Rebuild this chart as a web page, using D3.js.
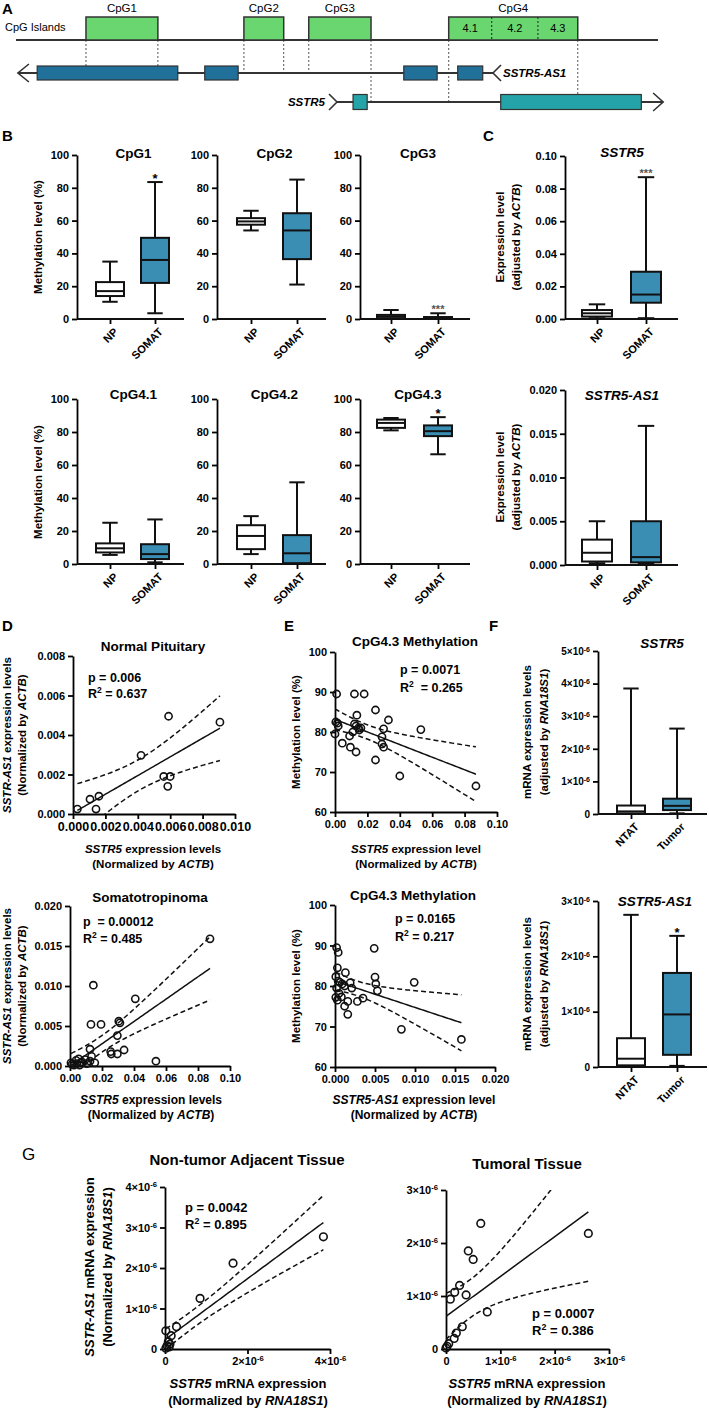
<!DOCTYPE html>
<html><head><meta charset="utf-8">
<script src="https://cdn.jsdelivr.net/npm/d3@7"></script>
<style>body{margin:0;background:#fff;} svg text{white-space:pre;}</style>
</head><body>
<svg id="fig" width="709" height="1408"></svg>
<script>
// ================= DATA =================
// Panel A – schematic genomic coordinates (arbitrary units 0-1000)
const islandNames = ["CpG1","CpG2","CpG3","CpG4"];
const islandStart = [109,355,456,674];
const islandEnd   = [221,417,553,875];
const cpg4SubNames = ["4.1","4.2","4.3"];
const cpg4SubBounds = [674,741,813,875];
const as1ExonStart = [33,294,604,688];
const as1ExonEnd   = [252,346,656,727];
const as1Span = [3,743];
const sstr5ExonStart = [525,755];
const sstr5ExonEnd   = [547,974];
const sstr5Span = [500,1008];
const guidePos   = [109,221,355,417,456,553,674,875];
const guideTrack = ["as1","as1","as1","as1","as1","sstr5","sstr5","sstr5"];

// Panel B – methylation box plots [min,q1,median,q3,max]
const methGroups = ["NP","SOMAT"];
const methTitles = ["CpG1","CpG2","CpG3","CpG4.1","CpG4.2","CpG4.3"];
const methNP    = [[10.5,14,17,22.5,35],[54,57.5,59.5,61.5,66],[0,0.5,1.5,2.5,5.5],[5.5,7,9.5,12.5,25],[6,9,17,23.5,29],[81,82.5,85.5,87.5,88.5]];
const methSOMAT = [[3.5,22,36,49.5,83.5],[21,36.5,54,64.5,85],[0,0.3,0.7,1.2,3.5],[1,3,6,12,27],[0,0.5,6.5,17.5,49.5],[66.5,77.5,80.5,84,89]];
const methStars = ["*","","***","","","*"];
const methTicks = [0,20,40,60,80,100];

// Panel C – expression box plots
const sstr5NP    = [0.0005,0.0015,0.0035,0.0055,0.009];
const sstr5SOMAT = [0.0005,0.010,0.015,0.029,0.087];
const as1NP      = [0.0002,0.0004,0.0014,0.0029,0.005];
const as1SOMAT   = [0.0002,0.0003,0.0009,0.005,0.0159];
const cTopTicks = [0,0.02,0.04,0.06,0.08,0.10];
const cBotTicks = [0,0.005,0.010,0.015,0.020];

// Panel D – SSTR5 (x) vs SSTR5-AS1 (y)
const dNormal = [[0.00027,0.00025],[0.00105,0.00075],[0.0016,0.0009],[0.00142,0.00025],[0.0042,0.00297],[0.0059,0.00495],[0.0056,0.0019],[0.006,0.0019],[0.00585,0.0014],[0.00907,0.00465]];
const dSomat = [[0.0875,0.0159],[0.0146,0.0101],[0.0408,0.0084],[0.0131,0.0052],[0.0194,0.0052],[0.0305,0.0056],[0.0312,0.0054],[0.0296,0.0038],[0.0125,0.0021],[0.0254,0.0018],[0.0258,0.0015],[0.0296,0.0015],[0.0338,0.0020],[0.0537,0.0006],[0.0006,0.0004],[0.0013,0.0002],[0.0025,0.0001],[0.0038,0.0007],[0.0044,0.0003],[0.0054,0.0009],[0.006,0.0001],[0.0069,0.0004],[0.0075,0.0005],[0.0095,0.0008],[0.0105,0.0003],[0.0125,0.0006],[0.0135,0.0012],[0.0155,0.0004]];
const dTopXTicks = [0,0.002,0.004,0.006,0.008,0.010];
const dTopYTicks = [0,0.002,0.004,0.006,0.008];
const dBotXTicks = [0,0.02,0.04,0.06,0.08,0.10];
const dBotYTicks = [0,0.005,0.010,0.015,0.020];

// Panel E – CpG4.3 methylation vs expression
const eSstr5 = [[0.001,89.5],[0.012,89.5],[0.018,89.5],[0.025,85.5],[0.0135,84.2],[0.033,83],[0.0015,82.2],[0.002,81.5],[0.012,82],[0.013,81.5],[0.0145,81],[0.016,81],[0.03,80.8],[0.053,80.6],[0.0,79.5],[0.011,80],[0.009,79],[0.029,78.8],[0.029,77],[0.03,76.2],[0.0045,77.2],[0.0095,76.2],[0.013,75],[0.025,73],[0.04,69],[0.087,66.5],[0.0005,82.5],[0.015,80.5]];
const eAs1 = [[0.0158,66.8],[0.0083,69.3],[0.0099,80.9],[0.0049,89.3],[0.0050,82.2],[0.0051,80.5],[0.0053,78.8],[0.0013,83.3],[0.0019,80.8],[0.0021,79.5],[0.0035,77],[0.0016,73],[0.0002,89.5],[0.0004,88.3],[0.0003,84.5],[0.0001,82.3],[0.0004,81.2],[0.0009,80.5],[0.0012,80],[0.0002,79.5],[0.0005,78.2],[0.0008,77.3],[0.0001,77.2],[0.0003,76.5],[0.0012,75],[0.0016,76.2],[0.0006,80.9],[0.0028,76.2]];
const eYTicks = [60,70,80,90,100];
const eTopXTicks = [0,0.02,0.04,0.06,0.08,0.10];
const eBotXTicks = [0,0.005,0.010,0.015,0.020];

// Panel F – mRNA (x10^-6) box plots
const fGroups = ["NTAT","Tumor"];
const fSstr5NTAT  = [0,0.02,0.08,0.26,3.85];
const fSstr5Tumor = [0.02,0.12,0.25,0.47,2.62];
const fAs1NTAT    = [0,0.03,0.15,0.52,2.75];
const fAs1Tumor   = [0.02,0.22,0.95,1.7,2.37];
const fTopTicks = [0,1,2,3,4,5];
const fBotTicks = [0,1,2,3];

// Panel G – x10^-6 units
const gNTAT = [[3.84,2.77],[1.65,2.12],[0.85,1.25],[0.28,0.55],[0.02,0.45],[0.15,0.33],[0.08,0.18],[0.05,0.08],[0.1,0.05],[0.02,0.02],[0.12,0.12]];
const gTumor = [[2.62,2.18],[0.64,2.37],[0.41,1.85],[0.5,1.69],[0.25,1.2],[0.16,1.07],[0.08,0.94],[0.37,1.02],[0.76,0.7],[0.3,0.42],[0.19,0.3],[0.15,0.2],[0.05,0.1],[0.02,0.05],[0.0,0.02]];
const gLeftXTicks = [0,2,4];
const gLeftYTicks = [0,1,2,3,4];
const gRightXTicks = [0,1,2,3];
const gRightYTicks = [0,1,2,3];

// ================= DRAWING =================
const FONT = '"Liberation Sans", Arial, Helvetica, sans-serif';
const NARROW = '"Liberation Sans Narrow", "Liberation Sans", Arial, sans-serif';
const BLUE = "#3a8db3";
const svg = d3.select("#fig");
svg.append("rect").attr("width",709).attr("height",1408).attr("fill","#fff");

function txt(g,x,y,parts,o={}){
  const t=g.append("text").attr("x",x).attr("y",y)
    .attr("font-size",o.size||11).attr("font-weight",o.weight||"bold")
    .attr("text-anchor",o.anchor||"middle").attr("font-family",o.family||FONT)
    .attr("fill",o.fill||"#000");
  if(o.rotate!==undefined) t.attr("transform",`rotate(${o.rotate},${x},${y})`);
  if(typeof parts==="string") parts=[[parts,""]];
  parts.forEach(([s,st])=>{
    const sp=t.append("tspan").text(s);
    if(st.includes("i")) sp.attr("font-style","italic");
    if(st.includes("sup")) sp.attr("baseline-shift","super").attr("font-size","68%");
  });
  return t;
}
function styleAxis(sel,size,family){
  sel.selectAll("path.domain").attr("stroke","#000").attr("stroke-width",1.8);
  sel.selectAll(".tick line").attr("stroke","#000").attr("stroke-width",1.8);
  sel.selectAll(".tick text").attr("font-size",size).attr("font-weight","bold")
     .attr("font-family",family||FONT).attr("fill","#000");
}
function sciTicks(sel){
  sel.selectAll(".tick text").each(function(d){
    const t=d3.select(this); t.text(null);
    if(d===0){t.text("0");return;}
    t.append("tspan").text(d+"×10");
    t.append("tspan").attr("baseline-shift","super").attr("font-size","70%").text("-6");
  });
}
function catLabels(g,x,cats,y0,size,family){
  cats.forEach(c=>{
    const px=x(c)+3, py=y0+8;
    g.append("text").attr("x",px).attr("y",py).attr("dy","0.72em")
     .attr("text-anchor","end").attr("transform",`rotate(-45,${px},${py})`)
     .attr("font-size",size||11).attr("font-weight","bold").attr("font-family",family||FONT).text(c);
  });
}
function ln(g,x1,y1,x2,y2,w){
  return g.append("line").attr("x1",x1).attr("y1",y1).attr("x2",x2).attr("y2",y2)
    .attr("stroke","#111").attr("stroke-width",w||2);
}

// ---------- Panel A ----------
(function(){
  const g=svg.append("g");
  const gx=d3.scaleLinear().domain([0,1000]).range([16,658]);
  const Y={base:40,islTop:17,as1:73,sstr5:102,exH:14};
  const green="#69d66f", as1Col="#20709a", sCol="#24a4a8";
  txt(g,2,14,"A",{size:15,anchor:"start"});
  guidePos.forEach((p,i)=>{
    const tr=guideTrack[i];
    const st=tr==="as1"?as1ExonStart:sstr5ExonStart, en=tr==="as1"?as1ExonEnd:sstr5ExonEnd;
    const ty=tr==="as1"?Y.as1:Y.sstr5;
    const inEx=st.some((s,j)=>p>=s&&p<=en[j]);
    g.append("line").attr("x1",gx(p)).attr("x2",gx(p)).attr("y1",Y.base).attr("y2",inEx?ty-Y.exH/2:ty)
      .attr("stroke","#555").attr("stroke-width",1).attr("stroke-dasharray","2,2");
  });
  g.append("line").attr("x1",gx(0)).attr("x2",gx(1000)).attr("y1",Y.base).attr("y2",Y.base).attr("stroke","#333").attr("stroke-width",2);
  islandNames.forEach((n,i)=>{
    g.append("rect").attr("x",gx(islandStart[i])).attr("y",Y.islTop)
     .attr("width",gx(islandEnd[i])-gx(islandStart[i])).attr("height",Y.base-Y.islTop)
     .attr("fill",green).attr("stroke","#333").attr("stroke-width",1.5);
    txt(g,(gx(islandStart[i])+gx(islandEnd[i]))/2,12,n,{size:11.5,weight:"normal"});
  });
  cpg4SubBounds.slice(1,-1).forEach(b=>{
    g.append("line").attr("x1",gx(b)).attr("x2",gx(b)).attr("y1",Y.islTop).attr("y2",Y.base)
     .attr("stroke","#222").attr("stroke-width",1).attr("stroke-dasharray","2,2");
  });
  cpg4SubNames.forEach((n,i)=>txt(g,(gx(cpg4SubBounds[i])+gx(cpg4SubBounds[i+1]))/2,32,n,{size:11,weight:"normal"}));
  txt(g,5,31,"CpG Islands",{size:11,weight:"normal",anchor:"start"});
  g.append("line").attr("x1",gx(as1Span[0])).attr("x2",gx(as1Span[1])).attr("y1",Y.as1).attr("y2",Y.as1).attr("stroke","#333").attr("stroke-width",2);
  const lt=gx(as1Span[0]), rt=gx(as1Span[1]);
  g.append("path").attr("d",`M${lt+11},${Y.as1-9}L${lt},${Y.as1}L${lt+11},${Y.as1+9}`).attr("fill","none").attr("stroke","#333").attr("stroke-width",1.6);
  g.append("path").attr("d",`M${rt+8},${Y.as1-8}L${rt},${Y.as1}L${rt+8},${Y.as1+8}`).attr("fill","none").attr("stroke","#333").attr("stroke-width",1.6);
  as1ExonStart.forEach((s,i)=>g.append("rect").attr("x",gx(s)).attr("y",Y.as1-Y.exH/2).attr("width",gx(as1ExonEnd[i])-gx(s)).attr("height",Y.exH).attr("fill",as1Col).attr("stroke","#333").attr("stroke-width",1.2));
  txt(g,rt+10,Y.as1+4,[["SSTR5-AS1","i"]],{size:11.5,anchor:"start"});
  const sl=gx(sstr5Span[0]), sr=gx(sstr5Span[1]);
  g.append("line").attr("x1",sl).attr("x2",sr).attr("y1",Y.sstr5).attr("y2",Y.sstr5).attr("stroke","#333").attr("stroke-width",2);
  g.append("path").attr("d",`M${sl-8},${Y.sstr5-8}L${sl},${Y.sstr5}L${sl-8},${Y.sstr5+8}`).attr("fill","none").attr("stroke","#333").attr("stroke-width",1.6);
  g.append("path").attr("d",`M${sr-10},${Y.sstr5-9}L${sr},${Y.sstr5}L${sr-10},${Y.sstr5+9}`).attr("fill","none").attr("stroke","#333").attr("stroke-width",1.6);
  sstr5ExonStart.forEach((s,i)=>g.append("rect").attr("x",gx(s)).attr("y",Y.sstr5-Y.exH/2-0.5).attr("width",gx(sstr5ExonEnd[i])-gx(s)).attr("height",Y.exH+1).attr("fill",sCol).attr("stroke","#333").attr("stroke-width",1.2));
  txt(g,sl-12,Y.sstr5+4,[["SSTR5","i"]],{size:11.5,anchor:"end"});
})();

// ---------- Box-plot helper ----------
function drawBox(g,cx,y,s,fill,w){
  const [mn,q1,md,q3,mx]=s, cw=w*0.55;
  ln(g,cx,y(mx),cx,y(q3)); ln(g,cx,y(q1),cx,y(mn));
  ln(g,cx-cw/2,y(mx),cx+cw/2,y(mx)); ln(g,cx-cw/2,y(mn),cx+cw/2,y(mn));
  g.append("rect").attr("x",cx-w/2).attr("y",y(q3)).attr("width",w).attr("height",Math.max(0.5,y(q1)-y(q3)))
   .attr("fill",fill).attr("stroke","#111").attr("stroke-width",2);
  ln(g,cx-w/2,y(md),cx+w/2,y(md));
}
function boxPanel(c){
  const g=svg.append("g");
  const y=d3.scaleLinear().domain(c.domain).range(c.yRange);
  const x=d3.scalePoint().domain(c.cats).range(c.catX);
  const ya=g.append("g").attr("transform",`translate(${c.ax},0)`)
    .call(d3.axisLeft(y).tickValues(c.ticks).tickSize(5).tickSizeOuter(0).tickPadding(3).tickFormat(c.fmt||null));
  styleAxis(ya,c.tickSize||11);
  if(c.sci) sciTicks(ya);
  const y0=y(c.domain[0]);
  const xa=g.append("g").attr("transform",`translate(0,${y0})`)
    .call(d3.axisBottom(x).tickSize(5).tickSizeOuter(0).tickFormat(""));
  xa.select(".domain").remove();
  styleAxis(xa,11);
  ln(g,c.ax,y0,c.end,y0,1.8);
  catLabels(g,x,c.cats,y0,11);
  c.series.forEach((s,i)=>drawBox(g,x(c.cats[i]),y,s,c.fills[i],c.boxW||28));
  if(c.stars) c.stars.forEach((st,i)=>{ if(st) txt(g,x(c.cats[i]),y(c.series[i][4])+(st.length>1?0:1),st,{size:st.length>1?11:13,fill:st.length>1?"#555":"#000"}); });
  if(c.title) txt(g,c.titleX!==undefined?c.titleX:(c.ax+c.end)/2+3,c.titleY,c.title,{size:13.5});
  return {g,x,y};
}

// ---------- Panel B ----------
txt(svg,2,141,"B",{size:15,anchor:"start"});
const bCols=[{ax:77,end:184,c:[110,155]},{ax:217,end:326,c:[251,297]},{ax:360,end:470,c:[391,438]}];
methTitles.forEach((t,i)=>{
  const col=bCols[i%3], top=i<3;
  boxPanel({domain:[0,100],yRange:top?[319,155]:[564,399],ticks:methTicks,fmt:d3.format("d"),
    ax:col.ax,end:col.end,cats:methGroups,catX:col.c,series:[methNP[i],methSOMAT[i]],fills:["#fff",BLUE],
    stars:["",methStars[i]],title:t,titleY:top?158:399});
});
txt(svg,42,237,"Methylation level (%)",{size:11.5,rotate:-90});
txt(svg,42,482,"Methylation level (%)",{size:11.5,rotate:-90});

// ---------- Panel C ----------
txt(svg,483,141,"C",{size:15,anchor:"start"});
boxPanel({domain:[0,0.10],yRange:[319,156],ticks:cTopTicks,fmt:d3.format(".2f"),ax:565,end:678,cats:methGroups,catX:[597,646],
  series:[sstr5NP,sstr5SOMAT],fills:["#fff",BLUE],stars:["","***"],title:[["SSTR5","i"]],titleX:622,titleY:157,boxW:30});
boxPanel({domain:[0,0.020],yRange:[565,390],ticks:cBotTicks,fmt:d3.format(".3f"),ax:565,end:678,cats:methGroups,catX:[597,646],
  series:[as1NP,as1SOMAT],fills:["#fff",BLUE],title:[["SSTR5-AS1","i"]],titleX:622,titleY:400,boxW:30});
[[237],[477]].forEach(([cy])=>{
  txt(svg,504,cy,"Expression level",{size:11.5,rotate:-90});
  txt(svg,520,cy,[["(adjusted by ",""],["ACTB","i"],[")",""]],{size:11.5,rotate:-90});
});

// ---------- Scatter helper ----------
function tCrit(df){const z=1.959964;return z+(z**3+z)/(4*df)+(5*z**5+16*z**3+3*z)/(96*df*df)+(3*z**7+19*z**5+17*z**3-15*z)/(384*df**3);}
function regression(p){
  const n=p.length,mx=d3.mean(p,d=>d[0]),my=d3.mean(p,d=>d[1]);
  let sxx=0,sxy=0,syy=0;p.forEach(([a,b])=>{sxx+=(a-mx)**2;sxy+=(a-mx)*(b-my);syy+=(b-my)**2;});
  const b=sxy/sxx,a=my-b*mx,s=Math.sqrt((syy-b*sxy)/(n-2)),t=tCrit(n-2);
  return {f:x=>a+b*x,h:x=>t*s*Math.sqrt(1/n+(x-mx)**2/sxx)};
}
let clipN=0;
function scatter(c){
  const g=svg.append("g");
  const x=d3.scaleLinear().domain(c.xDom).range(c.xRange);
  const y=d3.scaleLinear().domain(c.yDom).range(c.yRange);
  const xa=g.append("g").attr("transform",`translate(0,${c.yRange[0]})`)
    .call(d3.axisBottom(x).tickValues(c.xTicks).tickSize(5).tickSizeOuter(0).tickPadding(3).tickFormat(c.xFmt||null));
  styleAxis(xa,c.xTickSize||11,c.xFamily);
  const ya=g.append("g").attr("transform",`translate(${c.xRange[0]},0)`)
    .call(d3.axisLeft(y).tickValues(c.yTicks).tickSize(5).tickSizeOuter(0).tickPadding(3).tickFormat(c.yFmt||null));
  styleAxis(ya,c.yTickSize||11,c.yFamily);
  if(c.sci){sciTicks(xa);sciTicks(ya);}
  const id="clip"+(clipN++);
  g.append("clipPath").attr("id",id).append("rect").attr("x",c.xRange[0]).attr("y",c.yRange[1])
    .attr("width",c.xRange[1]-c.xRange[0]).attr("height",c.yRange[0]-c.yRange[1]);
  const r=regression(c.pts);
  const [xmin,xmax]=d3.extent(c.pts,d=>d[0]);
  const xs=d3.range(0,61).map(i=>xmin+(xmax-xmin)*i/60);
  const line=d3.line().x(d=>x(d[0])).y(d=>y(d[1]));
  const lg=g.append("g").attr("clip-path",`url(#${id})`);
  lg.append("path").attr("d",line(xs.map(v=>[v,r.f(v)]))).attr("fill","none").attr("stroke","#111").attr("stroke-width",1.5);
  [1,-1].forEach(sg=>lg.append("path").attr("d",line(xs.map(v=>[v,r.f(v)+sg*r.h(v)])))
    .attr("fill","none").attr("stroke","#111").attr("stroke-width",1.5).attr("stroke-dasharray","5,3"));
  g.selectAll("circle.pt").data(c.pts).join("circle").attr("class","pt")
    .attr("cx",d=>x(d[0])).attr("cy",d=>y(d[1])).attr("r",c.r||3.6)
    .attr("fill","none").attr("stroke","#111").attr("stroke-width",1.6);
  return g;
}

// ---------- Panel D ----------
txt(svg,2,631,"D",{size:15,anchor:"start"});
scatter({pts:dNormal,xDom:[0,0.010],xRange:[73,235],yDom:[0,0.008],yRange:[814,656],xTicks:dTopXTicks,yTicks:dTopYTicks,xFmt:d3.format(".3f"),yFmt:d3.format(".3f"),xTickSize:12.5});
txt(svg,153,651,"Normal Pituitary",{size:13.5});
txt(svg,88,682,"p = 0.006",{size:12.5,anchor:"start"});
txt(svg,88,698,[["R",""],["2","sup"],[" = 0.637",""]],{size:12.5,anchor:"start"});
txt(svg,153,853,[["SSTR5","i"],[" expression levels",""]],{size:11.5});
txt(svg,153,868,[["(Normalized by ",""],["ACTB","i"],[")",""]],{size:11.5});
scatter({pts:dSomat,xDom:[0,0.10],xRange:[70,230],yDom:[0,0.020],yRange:[1066,906],xTicks:dBotXTicks,yTicks:dBotYTicks,xFmt:d3.format(".2f"),yFmt:d3.format(".3f"),xFamily:NARROW,xTickSize:11});
txt(svg,150,902,"Somatotropinoma",{size:13.5});
txt(svg,83,926,"p  = 0.00012",{size:12.5,anchor:"start"});
txt(svg,83,943,[["R",""],["2","sup"],[" = 0.485",""]],{size:12.5,anchor:"start"});
txt(svg,151,1104,[["SSTR5","i"],[" expression levels",""]],{size:12,family:NARROW});
txt(svg,151,1119,[["(Normalized by ",""],["ACTB","i"],[")",""]],{size:12,family:NARROW});
[[735],[986]].forEach(([cy])=>{
  txt(svg,11,cy,[["SSTR-AS1","i"],[" expression levels",""]],{size:11.5,rotate:-90});
  txt(svg,26,cy,[["(Normalized by ",""],["ACTB","i"],[")",""]],{size:11.5,rotate:-90});
});

// ---------- Panel E ----------
txt(svg,284,631,"E",{size:15,anchor:"start"});
scatter({pts:eSstr5,xDom:[0,0.10],xRange:[335,497],yDom:[60,100],yRange:[812,652],xTicks:eTopXTicks,yTicks:eYTicks,xFmt:d3.format(".2f"),yFmt:d3.format("d")});
txt(svg,415,646,"CpG4.3 Methylation",{size:13.5});
txt(svg,400,674,"p = 0.0071",{size:12.5,anchor:"start"});
txt(svg,400,692,[["R",""],["2","sup"],["  = 0.265",""]],{size:12.5,anchor:"start"});
txt(svg,416,853,[["SSTR5","i"],[" expression level",""]],{size:11.5});
txt(svg,416,868,[["(Normalized by ",""],["ACTB","i"],[")",""]],{size:11.5});
scatter({pts:eAs1,xDom:[0,0.020],xRange:[335,495],yDom:[60,100],yRange:[1067,905],xTicks:eBotXTicks,yTicks:eYTicks,xFmt:d3.format(".3f"),yFmt:d3.format("d"),xFamily:NARROW,xTickSize:11});
txt(svg,413,900,"CpG4.3 Methylation",{size:13.5});
txt(svg,395,923,"p = 0.0165",{size:12.5,anchor:"start"});
txt(svg,395,941,[["R",""],["2","sup"],[" = 0.217",""]],{size:12.5,anchor:"start"});
txt(svg,414,1104,[["SSTR5-AS1","i"],[" expression level",""]],{size:12,family:NARROW});
txt(svg,414,1119,[["(Normalized by ",""],["ACTB","i"],[")",""]],{size:12,family:NARROW});
txt(svg,300,732,"Methylation level (%)",{size:11.5,rotate:-90});
txt(svg,300,986,"Methylation level (%)",{size:11.5,rotate:-90});

// ---------- Panel F ----------
txt(svg,489,631,"F",{size:15,anchor:"start"});
boxPanel({domain:[0,5],yRange:[814,651],ticks:fTopTicks,sci:true,tickSize:10,ax:598,end:707,cats:fGroups,catX:[631,677],
  series:[fSstr5NTAT,fSstr5Tumor],fills:["#fff",BLUE],title:[["SSTR5","i"]],titleX:662,titleY:648});
boxPanel({domain:[0,3],yRange:[1067,901],ticks:fBotTicks,sci:true,tickSize:10,ax:598,end:707,cats:fGroups,catX:[631,677],
  series:[fAs1NTAT,fAs1Tumor],fills:["#fff",BLUE],stars:["","*"],title:[["SSTR5-AS1","i"]],titleX:655,titleY:906});
[[732],[984]].forEach(([cy])=>{
  txt(svg,531,cy,"mRNA expression levels",{size:11.5,rotate:-90});
  txt(svg,548,cy,[["(adjusted by ",""],["RNA18S1","i"],[")",""]],{size:11.5,rotate:-90});
});

// ---------- Panel G ----------
txt(svg,22,1160,"G",{size:17,anchor:"start",weight:"normal"});
scatter({pts:gNTAT,xDom:[0,4],xRange:[165,330],yDom:[0,4],yRange:[1349,1187],xTicks:gLeftXTicks,yTicks:gLeftYTicks,sci:true,xFamily:NARROW,yFamily:NARROW,xTickSize:11,yTickSize:11,r:3.8});
txt(svg,247,1165,"Non-tumor Adjacent Tissue",{size:15,family:NARROW});
txt(svg,185,1212,"p = 0.0042",{size:13,anchor:"start",family:NARROW});
txt(svg,185,1229,[["R",""],["2","sup"],[" = 0.895",""]],{size:13,anchor:"start",family:NARROW});
txt(svg,248,1388,[["SSTR5","i"],[" mRNA expression",""]],{size:13,family:NARROW});
txt(svg,248,1405,[["(Normalized by ",""],["RNA18S1","i"],[")",""]],{size:13,family:NARROW});
txt(svg,94,1267,[["SSTR-AS1","i"],[" mRNA expression",""]],{size:13,family:NARROW,rotate:-90});
txt(svg,112,1267,[["(Normalized by ",""],["RNA18S1","i"],[")",""]],{size:13,family:NARROW,rotate:-90});
scatter({pts:gTumor,xDom:[0,3],xRange:[446,609],yDom:[0,3],yRange:[1349,1190],xTicks:gRightXTicks,yTicks:gRightYTicks,sci:true,xFamily:NARROW,yFamily:NARROW,xTickSize:11,yTickSize:11,r:3.8});
txt(svg,527,1169,"Tumoral Tissue",{size:15,family:NARROW});
txt(svg,532,1318,"p = 0.0007",{size:13,anchor:"start",family:NARROW});
txt(svg,532,1335,[["R",""],["2","sup"],[" = 0.386",""]],{size:13,anchor:"start",family:NARROW});
txt(svg,527,1388,[["SSTR5","i"],[" mRNA expression",""]],{size:13,family:NARROW});
txt(svg,527,1405,[["(Normalized by ",""],["RNA18S1","i"],[")",""]],{size:13,family:NARROW});
</script>
</body></html>
